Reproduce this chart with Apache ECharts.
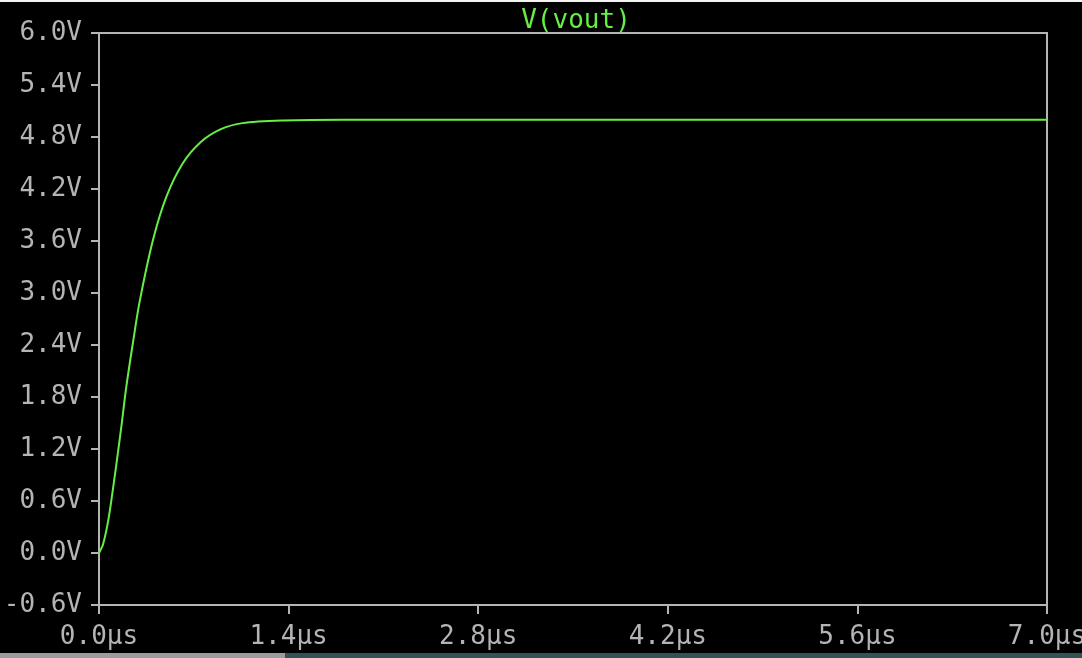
<!DOCTYPE html>
<html>
<head>
<meta charset="utf-8">
<script src="https://cdn.jsdelivr.net/npm/echarts@6/dist/echarts.min.js"></script>
<style>
  html, body { margin: 0; padding: 0; background: #000; }
  #chart { width: 1082px; height: 658px; }
</style>
</head>
<body>
<div id="chart"></div>
<script>
// transient response, time in µs, voltage in V
var times = [0, 0.03, 0.07, 0.105, 0.14, 0.17, 0.2, 0.25, 0.3, 0.4, 0.5, 0.62, 0.75, 0.9, 1.06, 1.36, 1.8, 2.5, 4.0, 5.5, 7.0];
var vout = [0, 0.1, 0.39, 0.76, 1.16, 1.52, 1.9, 2.42, 2.9, 3.62, 4.12, 4.5, 4.74, 4.89, 4.96, 4.99, 5.0, 5.0, 5.0, 5.0, 5.0];
var seriesName = 'V(vout)';

var points = times.map(function (t, i) { return [t, vout[i]]; });

var gray = '#b4b4b4';
var green = '#66ee44';
var font = 'DejaVu Sans Mono';

var chart = echarts.init(document.getElementById('chart'));
chart.setOption({
    backgroundColor: '#000',
    animation: false,
    title: {
        text: seriesName,
        left: 571,
        textAlign: 'center',
        top: 3,
        textStyle: { color: green, fontFamily: font, fontSize: 26, fontWeight: 'normal' }
    },
    grid: {
        left: 99, right: 35, top: 33, bottom: 53,
        outerBoundsMode: 'none',
        containLabel: false,
        show: true, borderColor: gray, borderWidth: 2, backgroundColor: '#000'
    },
    xAxis: {
        type: 'value',
        min: 0, max: 7.0, interval: 1.4,
        axisLine: { onZero: false, lineStyle: { color: gray, width: 2 } },
        axisTick: { show: true, length: 9, lineStyle: { color: gray, width: 2 } },
        splitLine: { show: false },
        axisLabel: {
            color: gray, fontFamily: font, fontSize: 26, margin: 19,
            showMaxLabel: true, hideOverlap: false,
            formatter: function (v) { return v.toFixed(1) + 'µs'; }
        }
    },
    yAxis: {
        type: 'value',
        min: -0.6, max: 6.0, interval: 0.6,
        axisLine: { show: true, onZero: false, lineStyle: { color: gray, width: 2 } },
        axisTick: { show: true, length: 8, lineStyle: { color: gray, width: 2 } },
        splitLine: { show: false },
        axisLabel: {
            color: gray, fontFamily: font, fontSize: 26, margin: 17,
            formatter: function (v) {
                var s = (Math.round(v * 10) / 10).toFixed(1);
                if (s === '-0.0') s = '0.0';
                return s + 'V';
            }
        }
    },
    graphic: [
        { type: 'rect', shape: { x: 0, y: 0, width: 1082, height: 2 }, style: { fill: '#f4f4f4' } },
        { type: 'rect', shape: { x: 0, y: 653, width: 285, height: 5 }, style: { fill: '#9c9c9c' } },
        { type: 'rect', shape: { x: 285, y: 653, width: 797, height: 5 }, style: { fill: '#2e5453' } }
    ],
    series: [{
        name: seriesName,
        type: 'line',
        data: points,
        smooth: 0.3,
        showSymbol: false,
        lineStyle: { color: green, width: 2 }
    }]
});
</script>
</body>
</html>
